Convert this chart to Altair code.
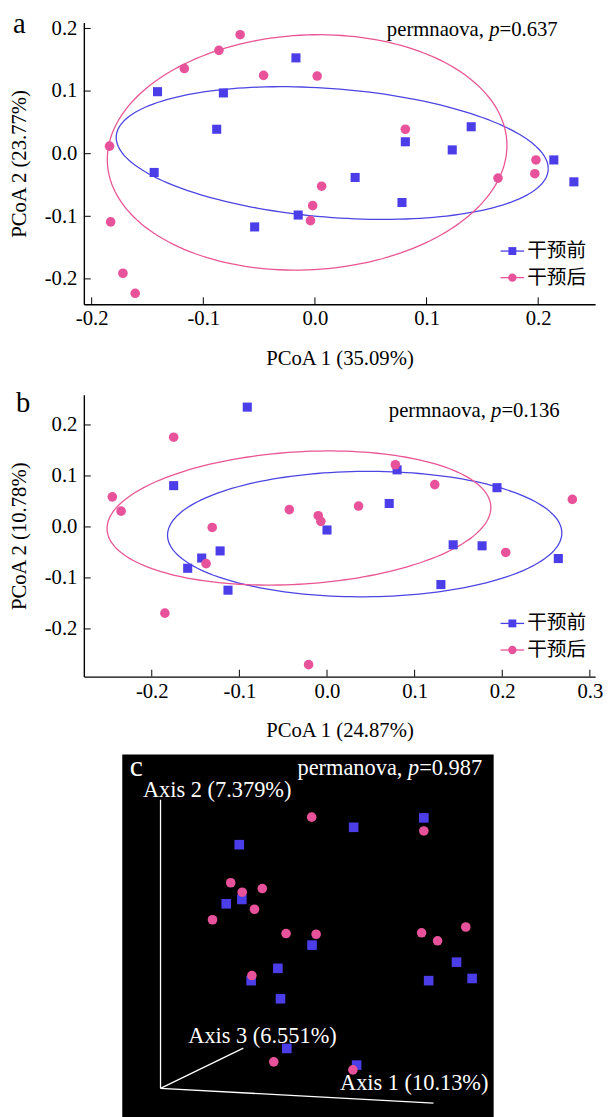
import altair as alt
import numpy as np
import pandas as pd

BLUE = "#4b3ee8"
PINK = "#e8529a"
BLUE_LINE = "#4d45e2"
PINK_LINE = "#e85592"
SERIF = "Liberation Serif"
CJK = "Noto Sans CJK SC"
GROUPS = ["干预前", "干预后"]

# ---------------- Panel a ----------------
a_pre_x = [-0.017, -0.141, -0.082, -0.088, -0.144, 0.036, 0.081, 0.123, 0.140, 0.214, 0.232, 0.078, -0.015, -0.054]
a_pre_y = [0.153, 0.099, 0.097, 0.039, -0.030, -0.038, 0.019, 0.006, 0.043, -0.010, -0.045, -0.078, -0.098, -0.117]
a_post_x = [-0.067, -0.086, -0.117, -0.046, 0.002, -0.184, 0.081, 0.198, 0.197, 0.164, 0.006, -0.002, -0.004, -0.183, -0.172, -0.161]
a_post_y = [0.190, 0.165, 0.136, 0.125, 0.124, 0.012, 0.039, -0.010, -0.032, -0.039, -0.052, -0.083, -0.107, -0.109, -0.191, -0.223]
a_xdom = [-0.207, 0.251]
a_ydom = [-0.2405, 0.2095]
a_xticks = [-0.2, -0.1, 0.0, 0.1, 0.2]
a_yticks = [-0.2, -0.1, 0.0, 0.1, 0.2]
# ellipse: centre x, centre y, half-width, half-height, phase (deg)
a_ell_pre = [0.0155, 0.001, 0.1935, 0.106, 103.6]
a_ell_post = [-0.007, 0.002, 0.179, 0.188, 86.6]
a_xtitle = "PCoA 1 (35.09%)"
a_ytitle = "PCoA 2 (23.77%)"
a_stat = ["permnaova,", "p", "=0.637"]

# ---------------- Panel b ----------------
b_pre_x = [-0.091, -0.175, 0.080, 0.071, 0.194, 0.000, -0.122, -0.143, -0.159, -0.113, 0.144, 0.177, 0.264, 0.130]
b_pre_y = [0.235, 0.081, 0.112, 0.046, 0.077, -0.006, -0.047, -0.061, -0.081, -0.124, -0.035, -0.037, -0.062, -0.113]
b_post_x = [-0.175, 0.078, 0.123, -0.245, -0.235, -0.043, -0.010, -0.007, 0.036, -0.131, -0.138, 0.204, 0.280, -0.185, -0.021]
b_post_y = [0.176, 0.122, 0.083, 0.059, 0.031, 0.034, 0.022, 0.011, 0.041, -0.001, -0.072, -0.050, 0.054, -0.169, -0.270]
b_xdom = [-0.2775, 0.306]
b_ydom = [-0.2935, 0.259]
b_xticks = [-0.2, -0.1, 0.0, 0.1, 0.2, 0.3]
b_yticks = [-0.2, -0.1, 0.0, 0.1, 0.2]
b_ell_pre = [0.043, -0.014, 0.225, 0.123, 89.0]
b_ell_post = [-0.032, 0.0175, 0.219, 0.1315, 81.0]
b_xtitle = "PCoA 1 (24.87%)"
b_ytitle = "PCoA 2 (10.78%)"
b_stat = ["permnaova,", "p", "=0.136"]

# ---------------- Panel c (projected 3-D coordinates, 0-100) ----------------
c_pre_u = [81.2, 62.3, 31.5, 28.0, 32.2, 51.1, 41.9, 34.7, 42.6, 90.0, 82.5, 94.2, 44.3, 63.1]
c_pre_v = [82.5, 79.9, 75.1, 58.8, 60.0, 47.4, 41.0, 37.6, 32.6, 42.7, 37.6, 38.2, 18.9, 14.3]
c_post_u = [51.0, 81.2, 29.2, 32.3, 37.7, 35.6, 24.3, 44.1, 52.2, 80.6, 84.9, 92.5, 34.9, 40.8, 62.1]
c_post_v = [82.7, 78.9, 64.6, 62.0, 63.0, 57.3, 54.4, 50.6, 50.4, 50.8, 48.6, 52.4, 39.0, 15.2, 13.0]
c_axes_name = ["Axis 1", "Axis 2", "Axis 3"]
c_axes_u0 = [10.3, 10.3, 10.3]
c_axes_v0 = [7.9, 7.9, 7.9]
c_axes_u1 = [83.8, 10.3, 32.6]
c_axes_v1 = [3.8, 87.5, 19.0]
c_axes_text = ["Axis 1 (10.13%)", "Axis 2 (7.379%)", "Axis 3 (6.551%)"]
c_stat = ["permanova,", "p", "=0.987"]

LABEL_EXPR = "replace(datum.label, '\u2212', '-')"


def ellipse_df(params, g):
    cx, cy, w, h, d = params
    t = np.deg2rad(np.arange(0, 361, 2))
    return pd.DataFrame({
        "x": cx + w * np.cos(t),
        "y": cy + h * np.cos(t - np.deg2rad(d)),
        "g": g,
        "i": np.arange(len(t)),
    })


def stat_text(words, right, base, size, color):
    # Times metrics (em): "perm?nova," = 4.693, space 0.25, italic p 0.5, "=0.xxx" 2.814
    total = 8.257 * size
    left = right - total
    xs = [left, left + 4.943 * size, left + 5.443 * size]
    styles = ["normal", "italic", "normal"]
    layers = []
    for w, x, s in zip(words, xs, styles):
        layers.append(
            alt.Chart(pd.DataFrame({"t": [w]})).mark_text(
                font=SERIF, fontSize=size, fontStyle=s, color=color,
                align="left", baseline="alphabetic"
            ).encode(text="t:N", x=alt.value(x), y=alt.value(base))
        )
    return layers


def spacer(x, y):
    # invisible layout spacer that fixes the panel's outer bounds
    return alt.Chart(pd.DataFrame({"s": [0]})).mark_rule(opacity=0).encode(
        x=alt.value(x), x2=alt.value(x + 1), y=alt.value(y))


def scatter_panel(pre_x, pre_y, post_x, post_y, ell_pre, ell_post, xdom, ydom,
                  xticks, yticks, xtitle, ytitle, letter, letter_pos, stat, stat_pos,
                  top_ext, bottom_ext):
    W, H = 519, 286
    xs = alt.Scale(domain=xdom, nice=False, zero=False)
    ys = alt.Scale(domain=ydom, nice=False, zero=False)
    xax = alt.Axis(values=xticks, format=".1f", labelExpr=LABEL_EXPR, ticks=False, grid=False,
                   title=xtitle, labelPadding=4, titlePadding=19, labelFlush=False,
                   labelOverlap=False)
    yax = alt.Axis(values=yticks, format=".1f", labelExpr=LABEL_EXPR, ticks=False, grid=False,
                   title=ytitle, labelPadding=7, titlePadding=15, labelFlush=False,
                   labelOverlap=False)
    X = lambda f: alt.X(f, scale=xs, axis=xax)
    Y = lambda f: alt.Y(f, scale=ys, axis=yax)
    ell = pd.concat([ellipse_df(ell_pre, GROUPS[0]), ellipse_df(ell_post, GROUPS[1])])
    ell_layer = alt.Chart(ell).mark_line(strokeWidth=1.3).encode(
        x=X("x:Q"), y=Y("y:Q"),
        color=alt.Color("g:N", scale=alt.Scale(domain=GROUPS, range=[BLUE_LINE, PINK_LINE]), legend=None),
        detail="g:N",
        order="i:Q",
    )
    pre = alt.Chart(pd.DataFrame({"x": pre_x, "y": pre_y})).mark_point(
        shape="square", filled=True, size=85, color=BLUE, opacity=1
    ).encode(x=X("x:Q"), y=Y("y:Q"))
    post = alt.Chart(pd.DataFrame({"x": post_x, "y": post_y})).mark_point(
        shape="circle", filled=True, size=95, color=PINK, opacity=1
    ).encode(x=X("x:Q"), y=Y("y:Q"))
    xtk = alt.Chart(pd.DataFrame({"x": xticks})).mark_rule(color="black", strokeWidth=1).encode(
        x=X("x:Q"), y=alt.value(H), y2=alt.value(H - 7))
    ytk = alt.Chart(pd.DataFrame({"y": yticks})).mark_rule(color="black", strokeWidth=1).encode(
        y=Y("y:Q"), x=alt.value(0), x2=alt.value(7))
    layers = [ell_layer, xtk, ytk, pre, post]
    # legend
    rows = [232, 259]
    for g, yy, shape, col, sz in zip(GROUPS, rows, ["square", "circle"], [BLUE, PINK], [64, 72]):
        d = pd.DataFrame({"t": [g]})
        layers.append(alt.Chart(d).mark_rule(color=col, strokeWidth=1.3).encode(
            x=alt.value(423), x2=alt.value(447), y=alt.value(yy)))
        layers.append(alt.Chart(d).mark_point(shape=shape, filled=True, size=sz, color=col, opacity=1).encode(
            x=alt.value(435), y=alt.value(yy)))
        layers.append(alt.Chart(d).mark_text(font=CJK, fontSize=20, color="black", align="left",
                                             baseline="middle").encode(
            text="t:N", x=alt.value(450), y=alt.value(yy)))
    layers.append(alt.Chart(pd.DataFrame({"t": [letter]})).mark_text(
        font=SERIF, fontSize=29, color="black", align="left", baseline="alphabetic").encode(
        text="t:N", x=alt.value(letter_pos[0]), y=alt.value(letter_pos[1])))
    layers += stat_text(stat, stat_pos[0], stat_pos[1], 21, "black")
    layers += [spacer(-77, -top_ext), spacer(-77, H + bottom_ext)]
    return alt.layer(*layers).properties(width=W, height=H)


pa = scatter_panel(a_pre_x, a_pre_y, a_post_x, a_post_y, a_ell_pre, a_ell_post, a_xdom, a_ydom,
                   a_xticks, a_yticks, a_xtitle, a_ytitle, "a", (-72, 11), a_stat, (481, 13.3),
                   20, 74)
pb = scatter_panel(b_pre_x, b_pre_y, b_post_x, b_post_y, b_ell_pre, b_ell_post, b_xdom, b_ydom,
                   b_xticks, b_yticks, b_xtitle, b_ytitle, "b", (-69, 17), b_stat, (483, 22),
                   18, 74)

# ---------------- Panel c ----------------
CW = 416
CH = 368 * 1.1  # black background continues past the bottom edge of the page
cxs = alt.Scale(domain=[-10.345, 100], nice=False, zero=False)
cys = alt.Scale(domain=[-10, 100], nice=False, zero=False)
bg = alt.Chart(pd.DataFrame({"u0": [0], "u1": [100], "v0": [-10], "v1": [100]})).mark_rect(color="black").encode(
    x=alt.X("u0:Q", scale=cxs, axis=None), x2="u1:Q",
    y=alt.Y("v0:Q", scale=cys, axis=None), y2="v1:Q")
axes_df = pd.DataFrame({"n": c_axes_name, "u0": c_axes_u0, "v0": c_axes_v0, "u1": c_axes_u1, "v1": c_axes_v1})
axl = alt.Chart(axes_df).mark_rule(color="white", strokeWidth=1.3).encode(
    x=alt.X("u0:Q", scale=cxs, axis=None), x2="u1:Q",
    y=alt.Y("v0:Q", scale=cys, axis=None), y2="v1:Q")
cpre = alt.Chart(pd.DataFrame({"u0": c_pre_u, "v0": c_pre_v})).mark_point(
    shape="square", filled=True, size=95, color=BLUE, opacity=1).encode(
    x=alt.X("u0:Q", scale=cxs, axis=None), y=alt.Y("v0:Q", scale=cys, axis=None))
cpost = alt.Chart(pd.DataFrame({"u0": c_post_u, "v0": c_post_v})).mark_point(
    shape="circle", filled=True, size=95, color=PINK, opacity=1).encode(
    x=alt.X("u0:Q", scale=cxs, axis=None), y=alt.Y("v0:Q", scale=cys, axis=None))
c_layers = [bg, axl, cpre, cpost]
for txt, px, py in zip(c_axes_text, [260, 60, 106], [341, 43.3, 292.7]):
    c_layers.append(alt.Chart(pd.DataFrame({"t": [txt]})).mark_text(
        font=SERIF, fontSize=22.7, color="white", align="left", baseline="alphabetic").encode(
        text="t:N", x=alt.value(px), y=alt.value(py)))
c_layers.append(alt.Chart(pd.DataFrame({"t": ["c"]})).mark_text(
    font=SERIF, fontSize=30, color="white", align="left", baseline="alphabetic").encode(
    text="t:N", x=alt.value(46.7), y=alt.value(21.7)))
c_layers += stat_text(c_stat, 404.3, 21, 22.7, "white")
c_layers.append(spacer(0, -5))
pc = alt.layer(*c_layers).properties(width=CW, height=CH)

chart = alt.vconcat(pa, pb, pc, spacing=0).properties(
    padding={"left": 0, "top": -14, "right": 0, "bottom": 0}
).configure_view(strokeWidth=0).configure_axis(
    domainColor="black", domainWidth=1.4, labelFont=SERIF, labelFontSize=21, labelColor="black",
    titleFont=SERIF, titleFontSize=21, titleFontWeight="normal", titleColor="black", grid=False
)

chart.save("out.html", embed_options={"renderer": "svg", "actions": False})
